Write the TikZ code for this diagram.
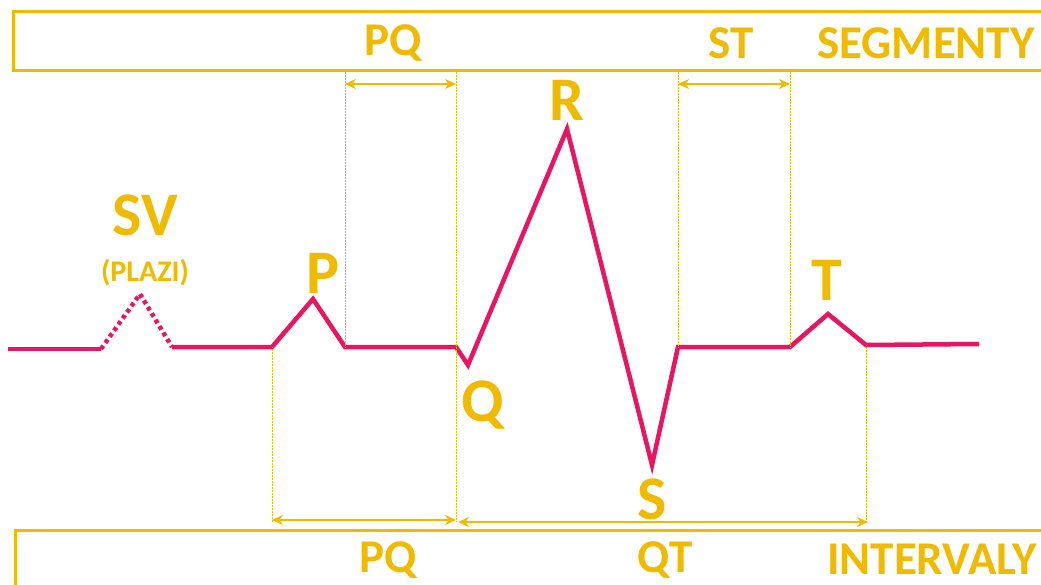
\documentclass[tikz,border=0pt]{standalone}
\usepackage{fontspec}
\setmainfont{Carlito}
\usetikzlibrary{arrows.meta}
\definecolor{ekggold}{RGB}{240,186,0}
\definecolor{ekgpink}{RGB}{233,20,98}

\begin{document}
\begin{tikzpicture}[
  x=1pt, y=-1pt, >={Stealth[length=11pt,width=10pt]},
  box/.style={draw=ekggold, line width=3pt},
  trace/.style={draw=ekgpink, line width=4.5pt, line join=miter},
  guide/.style={draw=ekggold, line width=0.5pt, densely dotted},
  span/.style={ekggold, line width=2.8pt, <->},
  big/.style={text=ekggold, inner sep=0pt, font=\fontsize{62}{66}\selectfont\bfseries},
  lbl/.style={text=ekggold, inner sep=0pt, font=\fontsize{47}{50}\selectfont\bfseries},
]
\clip (0,0) rectangle (1041,585);
\draw[box] (13,12) rectangle (1070,71);
\draw[box] (15,530) rectangle (1070,620);

\coordinate (a0) at (8,349);
\coordinate (a1) at (101,349);
\coordinate (sv) at (140,294);
\coordinate (a2) at (172,347);
\coordinate (p0) at (272,347);
\coordinate (p)  at (313,299);
\coordinate (p1) at (345,347);
\coordinate (q0) at (456,347);
\coordinate (q)  at (468,365);
\coordinate (r)  at (567,129);
\coordinate (s)  at (652,465);
\coordinate (s1) at (678,347);
\coordinate (t0) at (790,347);
\coordinate (t)  at (828,314);
\coordinate (t1) at (866,345);
\coordinate (e)  at (979,344);

\draw[trace] (a0) -- (a1);
\draw[trace, dash pattern=on 4pt off 3.5pt] (a1) -- (sv) -- (a2);
\draw[trace] (a2) -- (p0) -- (p) -- (p1) -- (q0) -- (q) -- (r) -- (s) -- (s1)
  -- (t0) -- (t) -- (t1) -- (e);

\coordinate (top) at (0,72);
\coordinate (bot) at (0,522);
\draw[guide] (p1) -- (p1 |- top);
\draw[guide] (q0 |- top) -- (q0 |- bot);
\draw[guide] (s1) -- (s1 |- top);
\draw[guide] (t0) -- (t0 |- top);
\draw[guide] (p0) -- (p0 |- bot);
\draw[guide] (t1) -- (t1 |- bot);

\coordinate (pqs1) at (345,84);
\coordinate (pqs2) at (456,84);
\coordinate (sts1) at (678,84);
\coordinate (sts2) at (790,84);
\coordinate (pqi1) at (272,520);
\coordinate (pqi2) at (456,520);
\coordinate (qti1) at (458,522);
\coordinate (qti2) at (868,522);
\draw[span] (pqs1) -- (pqs2);
\draw[span] (sts1) -- (sts2);
\draw[span] (pqi1) -- (pqi2);
\draw[span] (qti1) -- (qti2);

\node[lbl] (segpq)  at (393,43)  {PQ};
\node[lbl] (segst)  at (731,43)  {ST};
\node[lbl] (segm)   at (926,43)  {SEGMENTY};
\node[lbl] (intpq)  at (388,560) {PQ};
\node[lbl] (intqt)  at (665,560) {QT};
\node[lbl] (intv)   at (932,559) {INTERVALY};

\node[big] (lsv) at (145,215) {SV};
\node[text=ekggold, inner sep=0pt, font=\fontsize{30}{33}\selectfont\bfseries] (lplazi) at (145,273) {(PLAZI)};
\node[big] (lp) at (323,273) {P};
\node[big] (lq) at (483,405) {Q};
\node[big] (lr) at (567,100) {R};
\node[big] (ls) at (652,499) {S};
\node[big] (lt) at (827,280) {T};
\end{tikzpicture}
\end{document}
